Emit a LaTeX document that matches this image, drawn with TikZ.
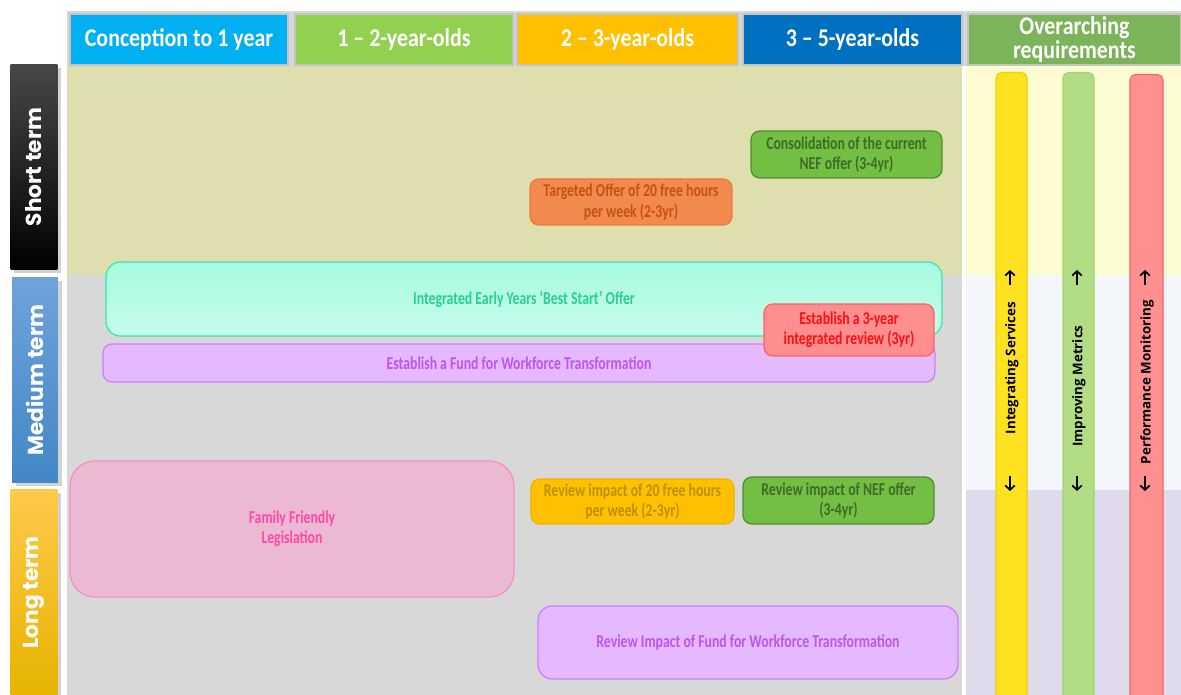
\documentclass[tikz,border=0pt]{standalone}
\usepackage{fontspec}
\setmainfont{Carlito}
\newfontfamily\headfont[FakeStretch=0.86]{Carlito}
\newfontfamily\boxfont[FakeStretch=0.76]{Carlito}
\newfontfamily\termfont{Poppins}
\newfontfamily\barfont{Open Sans}
\usetikzlibrary{arrows.meta}
\usetikzlibrary{shadows}

\definecolor{headcyan}{HTML}{00B0F0}
\definecolor{headlime}{HTML}{92D050}
\definecolor{headamber}{HTML}{FFC000}
\definecolor{headblue}{HTML}{0070C0}
\definecolor{headgreen}{HTML}{7CB45A}
\definecolor{headline}{HTML}{C4C4C4}
\definecolor{shortband}{HTML}{DFDEAE}
\definecolor{greyband}{HTML}{D8D8D8}
\definecolor{reqshort}{HTML}{FEFDD2}
\definecolor{reqmedium}{HTML}{F3F6FB}
\definecolor{reqlong}{HTML}{DFDAEC}
\definecolor{yellowbar}{HTML}{FFE21F}
\definecolor{yellowedge}{HTML}{F2D000}
\definecolor{greenbar}{HTML}{B3DD85}
\definecolor{greenedge}{HTML}{A5D277}
\definecolor{redbar}{HTML}{FF9090}
\definecolor{rededge}{HTML}{F06565}
\definecolor{nefgreen}{HTML}{72BF44}
\definecolor{nefedge}{HTML}{4F8C31}
\definecolor{neftext}{HTML}{3F6B25}
\definecolor{targfill}{HTML}{F28A50}
\definecolor{targedge}{HTML}{EE7A3A}
\definecolor{targtext}{HTML}{C6520D}
\definecolor{besttop}{HTML}{A6FBE1}
\definecolor{bestbottom}{HTML}{C6FCEC}
\definecolor{bestedge}{HTML}{36E8A6}
\definecolor{besttext}{HTML}{2AD08E}
\definecolor{fundfill}{HTML}{E5B9FF}
\definecolor{fundedge}{HTML}{CF7BFF}
\definecolor{fundtext}{HTML}{BD55F2}
\definecolor{revfill}{HTML}{FF8E8E}
\definecolor{revedge}{HTML}{FF6060}
\definecolor{revtext}{HTML}{FF1010}
\definecolor{famfill}{HTML}{EBB9D4}
\definecolor{famedge}{HTML}{F191C4}
\definecolor{famtext}{HTML}{FF4AA6}
\definecolor{hourfill}{HTML}{FFC000}
\definecolor{houredge}{HTML}{F2B200}
\definecolor{hourtext}{HTML}{BF9000}
\definecolor{medtop}{HTML}{6FA3DB}
\definecolor{medbottom}{HTML}{4287C6}
\definecolor{longtop}{HTML}{FFC94A}
\definecolor{longbottom}{HTML}{E6B400}

\begin{document}
\begin{tikzpicture}[x=0.02cm,y=-0.02cm,
    colhead/.style={draw=headline,line width=1pt,text=white,inner sep=0pt,minimum height=1.02cm,align=center,font=\headfont\bfseries\fontsize{14.5}{13.5}\selectfont},
    termlabel/.style={rotate=90,inner sep=0pt,minimum width=4.12cm,minimum height=0.94cm,text=white,font=\termfont\bfseries\fontsize{12.3}{13}\selectfont,drop shadow={opacity=0.35,shadow xshift=2pt,shadow yshift=-2pt}},
    plan/.style={rounded corners=5pt,line width=0.7pt,inner sep=0pt,align=center,font=\boxfont\bfseries\fontsize{10.3}{11.5}\selectfont},
    reqbar/.style={rounded corners=3pt,line width=0.6pt,minimum width=0.62cm,minimum height=12.7cm,anchor=north,inner sep=0pt},
    reqtext/.style={rotate=90,inner sep=0pt,font=\barfont\bfseries\fontsize{7.6}{8}\selectfont},
    barArrow/.style={arrows={-{Straight Barb[length=2.5pt,width=5.5pt]}},line width=1pt}]

    \useasboundingbox (0,0) rectangle (1181,695);
    \fill[white] (0,0) rectangle (1181,695);

    \fill[shortband] (67,64) rectangle (962,275);
    \fill[greyband] (67,275) rectangle (962,695);
    \fill[reqshort] (966,64) rectangle (1181,275);
    \fill[reqmedium] (966,275) rectangle (1181,490);
    \fill[reqlong] (966,490) rectangle (1181,695);
    \fill[greyband] (67,11) rectangle (1181,66);

    \foreach \n/\cx/\w/\c/\t in {1/179/218/headcyan/Conception to 1 year,
                                  2/404/218/headlime/1 – 2-year-olds,
                                  3/627.5/221/headamber/2 – 3-year-olds,
                                  4/852.5/219/headblue/3 – 5-year-olds,
                                  5/1074.5/213/headgreen/{Overarching\\requirements}}{
        \node[colhead,fill=\c,minimum width=\w*0.02cm] (col\n) at (\cx,39.5) {\t};
    }

    \node[termlabel,top color=black!72,bottom color=black] (short) at (34,167) {Short term};
    \node[termlabel,top color=medtop,bottom color=medbottom,minimum height=0.92cm] (medium) at (35,380) {Medium term};
    \node[termlabel,top color=longtop,bottom color=longbottom] (long) at (34,592.5) {Long term};

    \node[reqbar,fill=yellowbar,draw=yellowedge] (barInt) at (1011.5,72) {};
    \node[reqbar,fill=greenbar,draw=greenedge] (barMet) at (1078.5,72) {};
    \node[reqbar,fill=redbar,draw=rededge,minimum width=0.66cm] (barMon) at (1146.5,74) {};

    \node[reqtext] (txtInt) at (1012,368) {Integrating Services};
    \node[reqtext] (txtMet) at (1079,386) {Improving Metrics};
    \node[reqtext] (txtMon) at (1147,382) {Performance Monitoring};

    \foreach \n/\x in {Int/1010,Met/1077,Mon/1145}{
        \coordinate (up\n a) at (\x,285);
        \coordinate (up\n b) at (\x,270);
        \coordinate (down\n a) at (\x,476);
        \coordinate (down\n b) at (\x,491);
        \draw[barArrow] (up\n a) -- (up\n b);
        \draw[barArrow] (down\n a) -- (down\n b);
    }

    \node[plan,fill=nefgreen,draw=nefedge,text=neftext,minimum width=3.82cm,minimum height=0.94cm] (consNEF) at (846.5,154.5) {Consolidation of the current\\NEF offer (3-4yr)};
    \node[plan,fill=targfill,draw=targedge,text=targtext,minimum width=4.04cm,minimum height=0.92cm] (targOffer) at (631,202) {Targeted Offer of 20 free hours\\per week (2-3yr)};

    \node[plan,rounded corners=8pt,top color=besttop,bottom color=bestbottom,draw=bestedge,text=besttext,minimum width=16.72cm,minimum height=1.48cm] (bestStart) at (524,299) {Integrated Early Years ‘Best Start’ Offer};
    \node[plan,fill=fundfill,draw=fundedge,text=fundtext,minimum width=16.64cm,minimum height=0.76cm] (fundEst) at (519,363) {Establish a Fund for Workforce Transformation};
    \node[plan,fill=revfill,draw=revedge,text=revtext,minimum width=3.4cm,minimum height=1.04cm] (review3) at (849,330) {Establish a 3-year\\integrated review (3yr)};

    \node[plan,rounded corners=14pt,fill=famfill,draw=famedge,text=famtext,minimum width=8.88cm,minimum height=2.72cm] (family) at (292,529) {Family Friendly\\Legislation};
    \node[plan,fill=hourfill,draw=houredge,text=hourtext,minimum width=4.06cm,minimum height=0.9cm] (revHours) at (632.5,501.5) {Review impact of 20 free hours\\per week (2-3yr)};
    \node[plan,fill=nefgreen,draw=nefedge,text=neftext,minimum width=3.82cm,minimum height=0.94cm] (revNEF) at (838.5,500.5) {Review impact of NEF offer\\(3-4yr)};
    \node[plan,rounded corners=8pt,fill=fundfill,draw=fundedge,text=fundtext,minimum width=8.4cm,minimum height=1.46cm] (revFund) at (748,642.5) {Review Impact of Fund for Workforce Transformation};
\end{tikzpicture}
\end{document}
